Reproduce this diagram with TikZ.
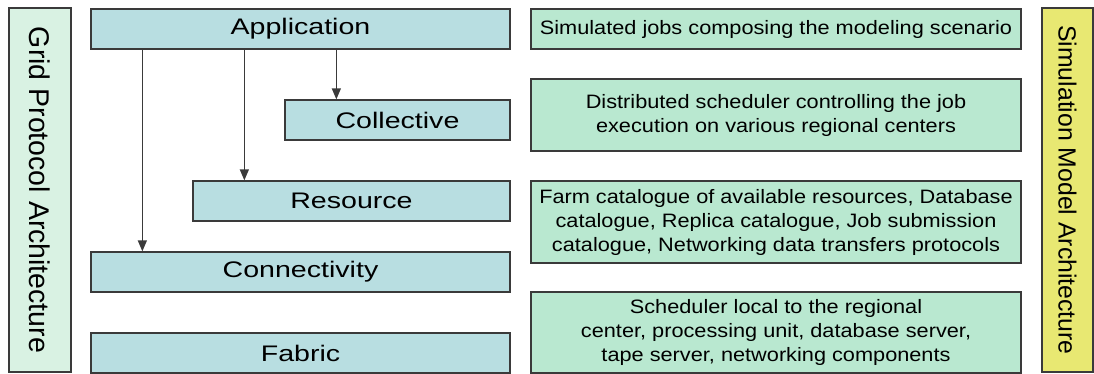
\documentclass[tikz,border=0pt]{standalone}
\usepackage{fontspec}
\setmainfont{Liberation Sans}
\newfontfamily\layerfont{Liberation Sans}[FakeStretch=1.27]
\newfontfamily\modelfont{Liberation Sans}[FakeStretch=1.12]
\usetikzlibrary{arrows.meta}
\definecolor{layerblue}{RGB}{184,222,225}
\definecolor{modelgreen}{RGB}{185,232,208}
\definecolor{gridmint}{RGB}{217,242,227}
\definecolor{simyellow}{RGB}{232,232,114}
\definecolor{edgegray}{RGB}{58,58,58}
\tikzset{%
	layer/.style={draw=edgegray, line width=1.3pt, fill=layerblue, minimum height=40pt,%
		inner sep=0pt, font=\layerfont\fontsize{22.5}{26}\selectfont},
	model/.style={draw=edgegray, line width=1.3pt, fill=modelgreen, minimum width=490pt,%
		inner sep=0pt, align=center, font=\modelfont\fontsize{19.4}{24}\selectfont},
	side/.style={draw=edgegray, line width=1.3pt, rotate=-90, minimum width=364pt,%
		inner sep=0pt},
	call/.style={-{Triangle[width=9pt,length=11pt]}, line width=1.4pt, draw=edgegray}
}
\begin{document}
\begin{tikzpicture}[x=1pt, y=-1pt]
	\useasboundingbox (0,0) rectangle (1094,374);

	% protocol layers
	\node[layer, minimum width=419pt] (app)  at (300.5,29)  {Application};
	\node[layer, minimum width=225pt] (coll) at (397.5,120) {Collective};
	\node[layer, minimum width=317pt] (res)  at (351.5,201) {Resource};
	\node[layer, minimum width=419pt] (conn) at (300.5,272) {Connectivity};
	\node[layer, minimum width=419pt] (fab)  at (300.5,353) {Fabric};

	% simulation counterparts
	\node[model, minimum height=40pt] (jobs)  at (776,29)    {Simulated jobs composing the modeling scenario};
	\node[model, minimum height=72pt] (sched) at (776,115)   {Distributed scheduler controlling the job\\execution on various regional centers};
	\node[model, minimum height=82pt] (cat)   at (776,222)   {Farm catalogue of available resources, Database\\catalogue, Replica catalogue, Job submission\\catalogue, Networking data transfers protocols};
	\node[model, minimum height=81pt] (local) at (776,332.5) {Scheduler local to the regional\\center, processing unit, database server,\\tape server, networking components};

	% side titles
	\node[side, fill=gridmint, minimum height=62pt, font=\fontsize{28.5}{32}\selectfont]
		(grid) at (40,190) {Grid Protocol Architecture};
	\node[side, fill=simyellow, minimum height=51pt, font=\fontsize{24.8}{28}\selectfont]
		(sim) at (1067.5,190) {Simulation Model Architecture};

	\foreach \t in {coll, res, conn} {
		\coordinate (\t-in) at ([xshift=52pt]\t.north west);
		\draw[call] (\t-in |- app.south) -- (\t-in);
	}
\end{tikzpicture}
\end{document}
